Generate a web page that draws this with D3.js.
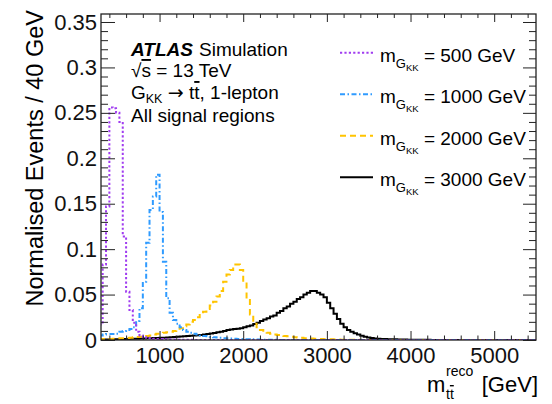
<!DOCTYPE html>
<html>
<head>
<meta charset="utf-8">
<script src="https://cdn.jsdelivr.net/npm/d3@7"></script>
<style>
  body { margin: 0; background: #fff; }
  svg { font-family: "Liberation Sans", Arial, sans-serif; }
  .axis path { display: none; }
  .axis line { stroke: #222; stroke-width: 1; }
  .axis text { font-size: 22px; fill: #111; font-family: "Liberation Sans", Arial, sans-serif; }
</style>
</head>
<body>
<svg width="552" height="404"></svg>
<script>
// histograms: 40 GeV bins, first low edge at 280 GeV (index 0)
const binStart = 280;
const binWidth = 40;
const nBins = 131;

const xTicks = [1000, 2000, 3000, 4000, 5000];
const yTicks = [0, 0.05, 0.1, 0.15, 0.2, 0.25, 0.3, 0.35];
const legendMasses = ["500", "1000", "2000", "3000"];

const m500 = [0.017, 0.083, 0.147, 0.256, 0.255, 0.250, 0.240, 0.114, 0.053, 0.033,
  0.019, 0.009, 0.005, 0.003, 0.0025, 0.002, 0.0015, 0.0012, 0.001, 0.0008,
  0.0007, 0.0006, 0.0005, 0.0004, 0.0003, 0.0003, 0.0002, 0.0002, 0.0001];

const m1000 = [0.005, 0.006, 0.0065, 0.0065, 0.0065, 0.007, 0.009, 0.010, 0.011, 0.012,
  0.014, 0.021, 0.035, 0.064, 0.107, 0.143, 0.158, 0.182, 0.141, 0.086,
  0.046, 0.030, 0.022, 0.018, 0.014, 0.011, 0.009, 0.008, 0.007, 0.006,
  0.005, 0.0045, 0.004, 0.0035, 0.003, 0.0027, 0.0024, 0.002, 0.0018, 0.0016,
  0.0014, 0.0012, 0.001, 0.0009, 0.0008, 0.0007, 0.0006, 0.0005, 0.0004, 0.0003,
  0.0003, 0.0002, 0.0002, 0.0001];

const m2000 = [0.0005, 0.001, 0.001, 0.0012, 0.0014, 0.0016, 0.0018, 0.002, 0.0023, 0.0026,
  0.003, 0.0033, 0.0036, 0.004, 0.0045, 0.005, 0.006, 0.007, 0.0075, 0.008,
  0.0085, 0.009, 0.010, 0.011, 0.013, 0.015, 0.017, 0.020, 0.022, 0.025,
  0.029, 0.031, 0.034, 0.038, 0.042, 0.048, 0.054, 0.064, 0.072, 0.077,
  0.083, 0.083, 0.077, 0.064, 0.044, 0.028, 0.018, 0.014, 0.011, 0.009,
  0.008, 0.007, 0.006, 0.0055, 0.005, 0.0045, 0.004, 0.0035, 0.003, 0.0027,
  0.0024, 0.002, 0.0018, 0.0016, 0.0014, 0.0012, 0.001, 0.0009, 0.0008, 0.0007,
  0.0006, 0.0005, 0.0004, 0.0004, 0.0003, 0.0003, 0.0002, 0.0002, 0.0001];

const m3000 = [0.0005, 0.0005, 0.0006, 0.0007, 0.0008, 0.0009, 0.001, 0.0011, 0.0012, 0.0013,
  0.0014, 0.0015, 0.0016, 0.0017, 0.0018, 0.002, 0.0021, 0.0022, 0.0024, 0.0026,
  0.0028, 0.003, 0.0032, 0.0035, 0.0038, 0.004, 0.0043, 0.0046, 0.005, 0.0053,
  0.0056, 0.006, 0.0066, 0.0072, 0.0078, 0.0085, 0.0092, 0.010, 0.011, 0.0115,
  0.012, 0.0125, 0.013, 0.014, 0.015, 0.016, 0.0175, 0.019, 0.021, 0.0225,
  0.024, 0.026, 0.027, 0.030, 0.032, 0.035, 0.037, 0.040, 0.042, 0.045,
  0.047, 0.050, 0.052, 0.054, 0.054, 0.052, 0.050, 0.047, 0.041, 0.035,
  0.029, 0.023, 0.018, 0.014, 0.011, 0.009, 0.0075, 0.006, 0.0047, 0.0037,
  0.0028, 0.0021, 0.0017, 0.0014, 0.0012, 0.001, 0.0009, 0.0008, 0.0007, 0.0006,
  0.0005, 0.0005, 0.0004, 0.0004, 0.0003, 0.0003, 0.0003, 0.0002, 0.0002, 0.0001];

// styles kept apart from the values
const styles = {
  "500":  { color: "#a03cf0", dash: "2.2,2.2" },
  "1000": { color: "#2f9bff", dash: "5,2.5,1.5,2.5" },
  "2000": { color: "#ffc400", dash: "6,4" },
  "3000": { color: "#000000", dash: null }
};

const series = [
  { mass: "3000", values: m3000 },
  { mass: "2000", values: m2000 },
  { mass: "1000", values: m1000 },
  { mass: "500",  values: m500 }
];

const svg = d3.select("svg");
const margin = {top: 14, right: 16, bottom: 64, left: 101};
const width = +svg.attr("width") - margin.left - margin.right;
const height = +svg.attr("height") - margin.top - margin.bottom;

const xScale = d3.scaleLinear().domain([300, 5500]).range([0, width]);
const yScale = d3.scaleLinear().domain([0, 0.3588]).range([height, 0]);

const g = svg.append("g")
  .attr("transform", `translate(${margin.left},${margin.top})`);

g.append("clipPath").attr("id", "plot-clip")
  .append("rect").attr("width", width).attr("height", height);

// histograms as step lines
const line = d3.line()
  .x(d => xScale(d.x))
  .y(d => yScale(d.y))
  .curve(d3.curveStepAfter);

series.forEach(s => {
  const pts = d3.range(nBins).map(i => ({x: binStart + i * binWidth, y: s.values[i] || 0}));
  pts.push({x: binStart + nBins * binWidth, y: 0});
  g.append("path")
    .datum(pts)
    .attr("clip-path", "url(#plot-clip)")
    .attr("fill", "none")
    .attr("stroke", styles[s.mass].color)
    .attr("stroke-width", 2)
    .attr("stroke-dasharray", styles[s.mass].dash)
    .attr("d", line);
});

// axes: ticks pointing inward on all four sides
const xMinor = d3.range(400, 5500, 200).filter(v => v % 1000 !== 0);
const yMinor = d3.range(0, 36).map(i => i / 100).filter(v => Math.round(v * 100) % 5 !== 0);

g.append("g").attr("class", "axis")
  .attr("transform", `translate(0,${height})`)
  .call(d3.axisBottom(xScale).tickValues(xTicks).tickSizeInner(-9).tickSizeOuter(0).tickPadding(7)
    .tickFormat(d => String(d)));
g.append("g").attr("class", "axis")
  .attr("transform", `translate(0,${height})`)
  .call(d3.axisBottom(xScale).tickValues(xMinor).tickSizeInner(-4.5).tickSizeOuter(0).tickFormat(""));
g.append("g").attr("class", "axis")
  .call(d3.axisTop(xScale).tickValues(xTicks).tickSizeInner(-8).tickSizeOuter(0).tickFormat(""));
g.append("g").attr("class", "axis")
  .call(d3.axisTop(xScale).tickValues(xMinor).tickSizeInner(-4).tickSizeOuter(0).tickFormat(""));

g.append("g").attr("class", "axis")
  .call(d3.axisLeft(yScale).tickValues(yTicks).tickSizeInner(-14).tickSizeOuter(0).tickPadding(4)
    .tickFormat(d => String(d)));
g.append("g").attr("class", "axis")
  .call(d3.axisLeft(yScale).tickValues(yMinor).tickSizeInner(-7).tickSizeOuter(0).tickFormat(""));
g.append("g").attr("class", "axis")
  .attr("transform", `translate(${width},0)`)
  .call(d3.axisRight(yScale).tickValues(yTicks).tickSizeInner(-13).tickSizeOuter(0).tickFormat(""));
g.append("g").attr("class", "axis")
  .attr("transform", `translate(${width},0)`)
  .call(d3.axisRight(yScale).tickValues(yMinor).tickSizeInner(-7).tickSizeOuter(0).tickFormat(""));

// frame
g.append("rect")
  .attr("width", width)
  .attr("height", height)
  .attr("fill", "none")
  .attr("stroke", "#222")
  .attr("stroke-width", 1.3);

// axis titles
svg.append("text")
  .attr("transform", "rotate(-90)")
  .attr("x", -10)
  .attr("y", 43)
  .attr("text-anchor", "end")
  .style("font-size", "23.5px")
  .text("Normalised Events / 40 GeV");

svg.append("text").attr("x", 427).attr("y", 392).style("font-size", "22px").text("m");
svg.append("text").attr("x", 446).attr("y", 376).style("font-size", "14px").text("reco");
const ttSub = svg.append("text").attr("x", 446).attr("y", 399).style("font-size", "14px");
ttSub.append("tspan").text("t");
ttSub.append("tspan").style("text-decoration", "overline").text("t");
svg.append("text").attr("x", 538).attr("y", 392).attr("text-anchor", "end")
  .style("font-size", "22px").text("[GeV]");

// ATLAS label block
const info = svg.append("g").style("font-size", "19px");
const l1 = info.append("text").attr("x", 131).attr("y", 56);
l1.append("tspan").style("font-weight", "bold").style("font-style", "italic").text("ATLAS");
l1.append("tspan").attr("x", 199).text("Simulation");

const l2 = info.append("text").attr("x", 131).attr("y", 77);
l2.append("tspan").text("\u221A");
l2.append("tspan").style("text-decoration", "overline").text("s");
l2.append("tspan").text(" = 13 TeV");

const l3 = info.append("text").attr("x", 131).attr("y", 99);
l3.append("tspan").text("G");
l3.append("tspan").attr("dy", 4).style("font-size", "12.5px").text("KK");
l3.append("tspan").attr("dy", -4).text(" ");
l3.append("tspan").style("font-family", "'DejaVu Sans'").text("\u2192");
l3.append("tspan").text(" t");
l3.append("tspan").style("text-decoration", "overline").text("t");
l3.append("tspan").text(", 1-lepton");

info.append("text").attr("x", 131).attr("y", 122).text("All signal regions");

// legend
const legend = svg.append("g").style("font-size", "19px");
legendMasses.forEach((m, i) => {
  const yb = 61.7 + i * 41.5;
  legend.append("line")
    .attr("x1", 340).attr("x2", 373)
    .attr("y1", yb - 9).attr("y2", yb - 9)
    .attr("stroke", styles[m].color)
    .attr("stroke-width", 2)
    .attr("stroke-dasharray", styles[m].dash);
  const t = legend.append("text").attr("x", 380).attr("y", yb);
  t.append("tspan").text("m");
  t.append("tspan").attr("dy", 6).style("font-size", "13px").text("G");
  t.append("tspan").attr("dy", 3).style("font-size", "9.5px").text("KK");
  t.append("tspan").attr("dy", -9).text(` = ${m} GeV`);
});
</script>
</body>
</html>
